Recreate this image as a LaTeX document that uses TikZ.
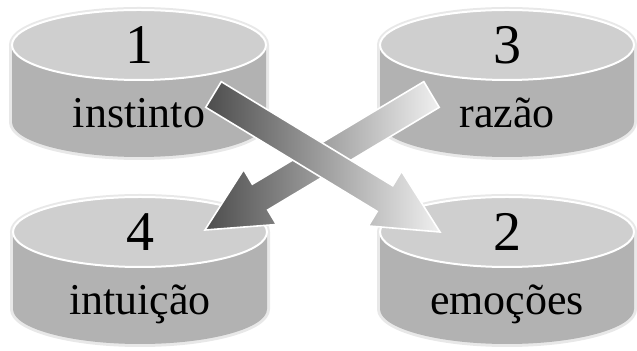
\documentclass[tikz,border=0pt]{standalone}
\usepackage{fontspec}
\setmainfont{Liberation Serif}
\usetikzlibrary{calc}
\tikzset{halo/.style={draw=black!9,line width=3pt},body/.style={fill=black!30},lid/.style={fill=black!19,draw=white,line width=1pt},
num/.style={font=\fontsize{28}{30}\selectfont,inner sep=0pt},word/.style={font=\fontsize{22}{26}\selectfont,anchor=base,inner sep=0pt},
fat/.style={left color=black!70,right color=black!6,draw=white,line width=0.8pt}}

\begin{document}
\begin{tikzpicture}[x=0.5pt,y=-0.5pt]
\useasboundingbox(0,0)rectangle(637,351);
% drums
\foreach\n/\x/\y/\k/\w in{c1/139/45/1/instinto,c3/507/45/3/razão,c4/140/232/4/intuição,c2/507/232/2/emoções}{
\draw[halo](\x-127,\y)--++(0,77)arc[start angle=180,end angle=0,x radius=127,y radius=35]--++(0,-77);
\draw[halo](\x,\y)ellipse[x radius=127,y radius=35];
\path[body](\x-127,\y)--++(0,77)arc[start angle=180,end angle=0,x radius=127,y radius=35]--++(0,-77)--cycle;
\path[lid](\x,\y)ellipse[x radius=127,y radius=35];
\node[num](\n-k)at(\x,\y){\k};
\node[word](\n-w)at(\x,\y+83){\w};
}
% arrows
\coordinate(a-t)at(213.5,94.5);\coordinate(a-h)at(440,232);
\coordinate(b-t)at(431.5,94.5);\coordinate(b-h)at(205,230);
\foreach\a in{b,a}{
\coordinate(\a-m)at($(\a-t)!0.757!(\a-h)$);
\draw[fat]($(\a-t)!7.5pt!90:(\a-h)$)--($(\a-m)!7.5pt!90:(\a-h)$)--($(\a-m)!16pt!90:(\a-h)$)--(\a-h)
 --($(\a-m)!16pt!-90:(\a-h)$)--($(\a-m)!7.5pt!-90:(\a-h)$)--($(\a-t)!7.5pt!-90:(\a-h)$)--cycle;
}
\end{tikzpicture}
\end{document}
